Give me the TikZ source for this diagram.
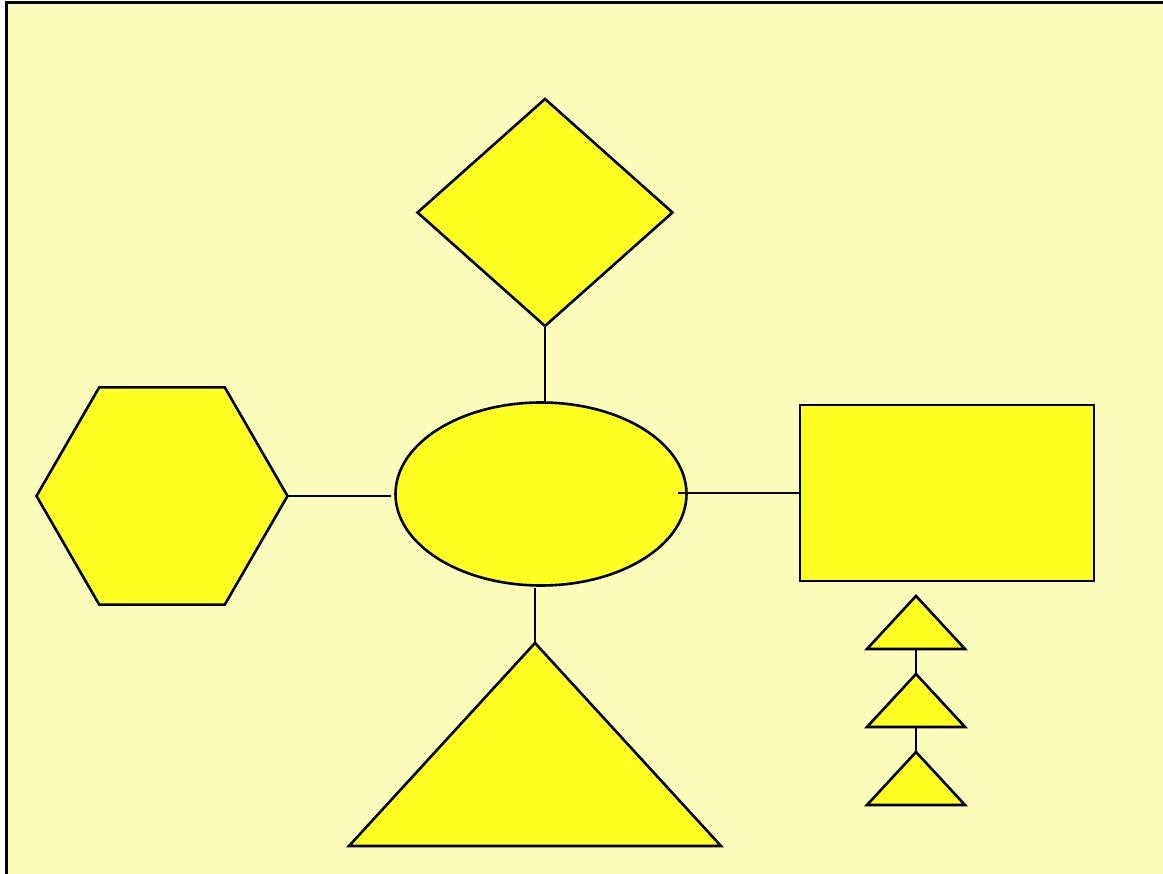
\documentclass[tikz,border=0pt]{standalone}
\usetikzlibrary{positioning,shapes.geometric}
\definecolor{PaleBg}{HTML}{FDFDBB}
\definecolor{ShapeFill}{HTML}{FFFF22}
\tikzset{
  blob/.style={draw=black, line width=2.6pt, fill=ShapeFill, inner sep=0pt, outer sep=0pt},
  tri/.style={blob, isosceles triangle, isosceles triangle stretches, shape border rotate=90},
  link/.style={line width=2.6pt, black},
}
\begin{document}
\begin{tikzpicture}[x=1pt,y=-1pt]
  \useasboundingbox (0,0) rectangle (1163,874);
  \clip (0,0) rectangle (1163,874);
  \draw[line width=3pt, fill=PaleBg] (6,3) rectangle (1190,900);

  \node[blob, ellipse, minimum width=291pt, minimum height=183pt] (hub) at (541,494) {};
  \node[blob, diamond, minimum width=255pt, minimum height=227pt] (kite) at (545,212.5) {};
  \node[blob, regular polygon, regular polygon sides=6, minimum size=251pt] (hex) at (162,496) {};
  \node[blob, rectangle, minimum width=294pt, minimum height=176pt] (box) at (947,493) {};
  \node[tri, minimum width=372pt, minimum height=203pt, anchor=apex] (peak) at (535,643) {};
  \node[tri, minimum width=98pt, minimum height=53pt, anchor=apex] (tinyA) at (916,596) {};
  \node[tri, minimum width=98pt, minimum height=53pt, anchor=apex] (tinyB) at (916,674) {};
  \node[tri, minimum width=98pt, minimum height=53pt, anchor=apex] (tinyC) at (916,752) {};

  \draw[link] (kite.south) -- (kite.south |- hub.north);
  \draw[link, shorten >=5pt] (hex.east) -- (hex.east -| hub.west);
  \draw[link, shorten >=-9pt] (box.west) -- (box.west -| hub.east);
  \draw[link, shorten <=2pt] (peak.apex |- hub.south) -- (peak.apex);
  \draw[link] (tinyA.south) -- (tinyB.apex);
  \draw[link] (tinyB.south) -- (tinyC.apex);
\end{tikzpicture}
\end{document}
